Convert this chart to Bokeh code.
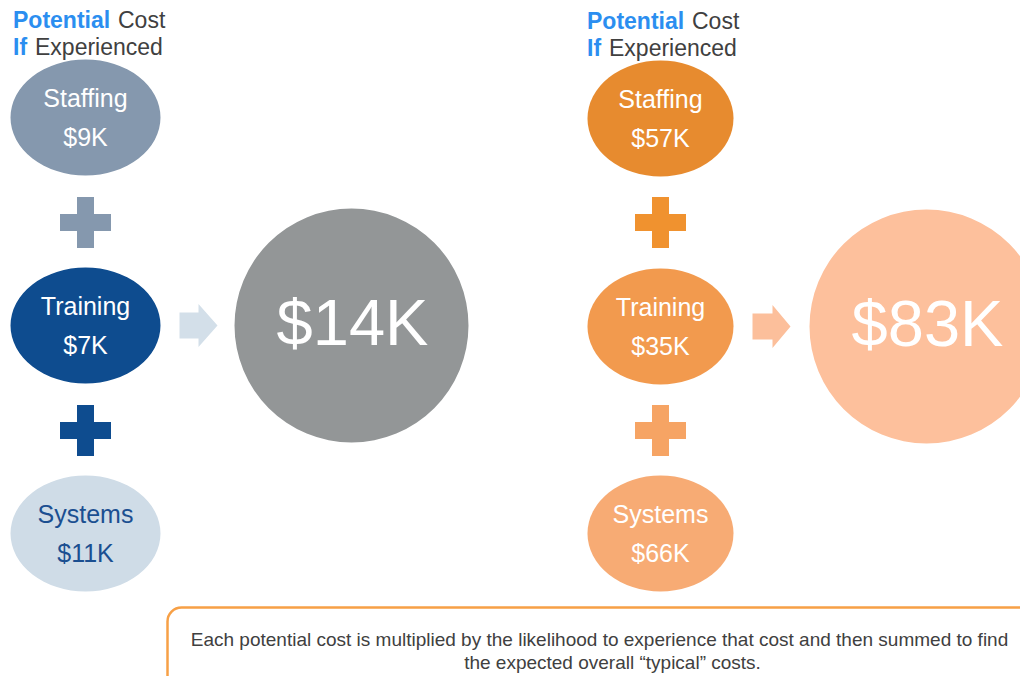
from bokeh.plotting import figure
from bokeh.models import ColumnDataSource, Range1d, BoxAnnotation
from bokeh.core.properties import value
from bokeh.embed import file_html
from bokeh.resources import INLINE

# ---- data ----
categories = ["Staffing", "Training", "Systems"]
left_costs = [9, 7, 11]        # $K, potential cost if experienced (left scenario)
right_costs = [57, 35, 66]     # $K, potential cost if experienced (right scenario)
totals = [14, 83]              # $K, expected overall "typical" cost
title_word1 = ["Potential", "If"]
title_word2 = ["Cost", "Experienced"]
note_lines = ["Each potential cost is multiplied by the likelihood to experience that cost and then summed to find",
              "the expected overall \u201ctypical\u201d costs."]

FONT = value("Liberation Sans")

# ---- layout (screen-like coordinates) ----
W, H = 1020, 676
p = figure(width=W, height=H, output_backend="svg", toolbar_location=None,
           x_range=Range1d(0, W), y_range=Range1d(H, 0),
           min_border=0, outline_line_color=None, background_fill_color="white",
           border_fill_color="white")
p.axis.visible = False
p.grid.visible = False

def column(cx, cys, vals, ell_w, ell_colors, text_colors, plus_colors, plus_ys):
    src = ColumnDataSource(dict(
        x=[cx] * 3, y=cys, fill=ell_colors, tc=text_colors,
        name=categories, lab=[f"${v}K" for v in vals],
        ny=[c - 19.5 for c in cys], vy=[c + 19.5 for c in cys]))
    p.ellipse(x="x", y="y", width=ell_w, height=116, fill_color="fill",
              line_color=None, source=src)
    p.text(x="x", y="ny", text="name", text_color="tc", text_font=FONT,
           text_font_size="25px", text_align="center", text_baseline="middle", source=src)
    p.text(x="x", y="vy", text="lab", text_color="tc", text_font=FONT,
           text_font_size="25px", text_align="center", text_baseline="middle", source=src)
    psrc = ColumnDataSource(dict(x=[cx] * 2, y=plus_ys, c=plus_colors))
    p.rect(x="x", y="y", width=51, height=17, fill_color="c", line_color=None, source=psrc)
    p.rect(x="x", y="y", width=17, height=51, fill_color="c", line_color=None, source=psrc)

def title(x0, x1, x2, y0):
    p.text(x=[x0, x0], y=[y0, y0 + 27.5], text=title_word1, text_color="#2b8ef0",
           text_font=FONT, text_font_style="bold", text_font_size="23px",
           text_align="left", text_baseline="middle")
    p.text(x=[x1, x2], y=[y0, y0 + 27.5], text=title_word2, text_color="#404040",
           text_font=FONT, text_font_size="23px",
           text_align="left", text_baseline="middle")

def arrow(x0, xm, x1, cy, color):
    xs = [x0, xm, xm, x1, xm, xm, x0]
    ys = [cy - 13, cy - 13, cy - 21.5, cy, cy + 21.5, cy + 13, cy + 13]
    p.patch(xs, ys, fill_color=color, line_color=None)

def total_circle(cx, cy, val, color):
    p.circle(x=[cx], y=[cy], radius=117, fill_color=color, line_color=None)
    p.text(x=[cx + 1], y=[cy - 3.5], text=[f"${val}K"], text_color="white", text_font=FONT,
           text_font_size="65px", text_align="center", text_baseline="middle")

# left scenario
title(12.5, 117.5, 34.5, 19)
column(85, [117, 325, 533], left_costs, 150,
       ["#8598ae", "#0e4c8f", "#cfdce7"], ["white", "white", "#1b4f91"],
       ["#8598ae", "#0e4c8f"], [222, 430])
arrow(179, 198, 217, 325, "#d3dfe9")
total_circle(351, 325, totals[0], "#939697")

# right scenario
title(586.5, 691.5, 608.5, 20)
column(660, [118, 326, 533], right_costs, 146,
       ["#e78b2f", "#f29a4e", "#f7ab74"], ["white", "white", "white"],
       ["#f0922f", "#f6a464"], [222, 430])
arrow(752, 772, 790, 326, "#fcbf9b")
total_circle(926, 326, totals[1], "#fdc09c")

# note box
p.add_layout(BoxAnnotation(left=167, right=1080, top=607, bottom=691, fill_color="white",
                           fill_alpha=1, line_color="#f7a046", line_alpha=1, line_width=2.5,
                           border_radius=14, level="underlay"))
p.text(x=[599, 612], y=[639, 662], text=note_lines, text_color="#404040", text_font=FONT,
       text_font_size="19px", text_align="center", text_baseline="middle")

open("out.html", "w").write(file_html(p, INLINE))
